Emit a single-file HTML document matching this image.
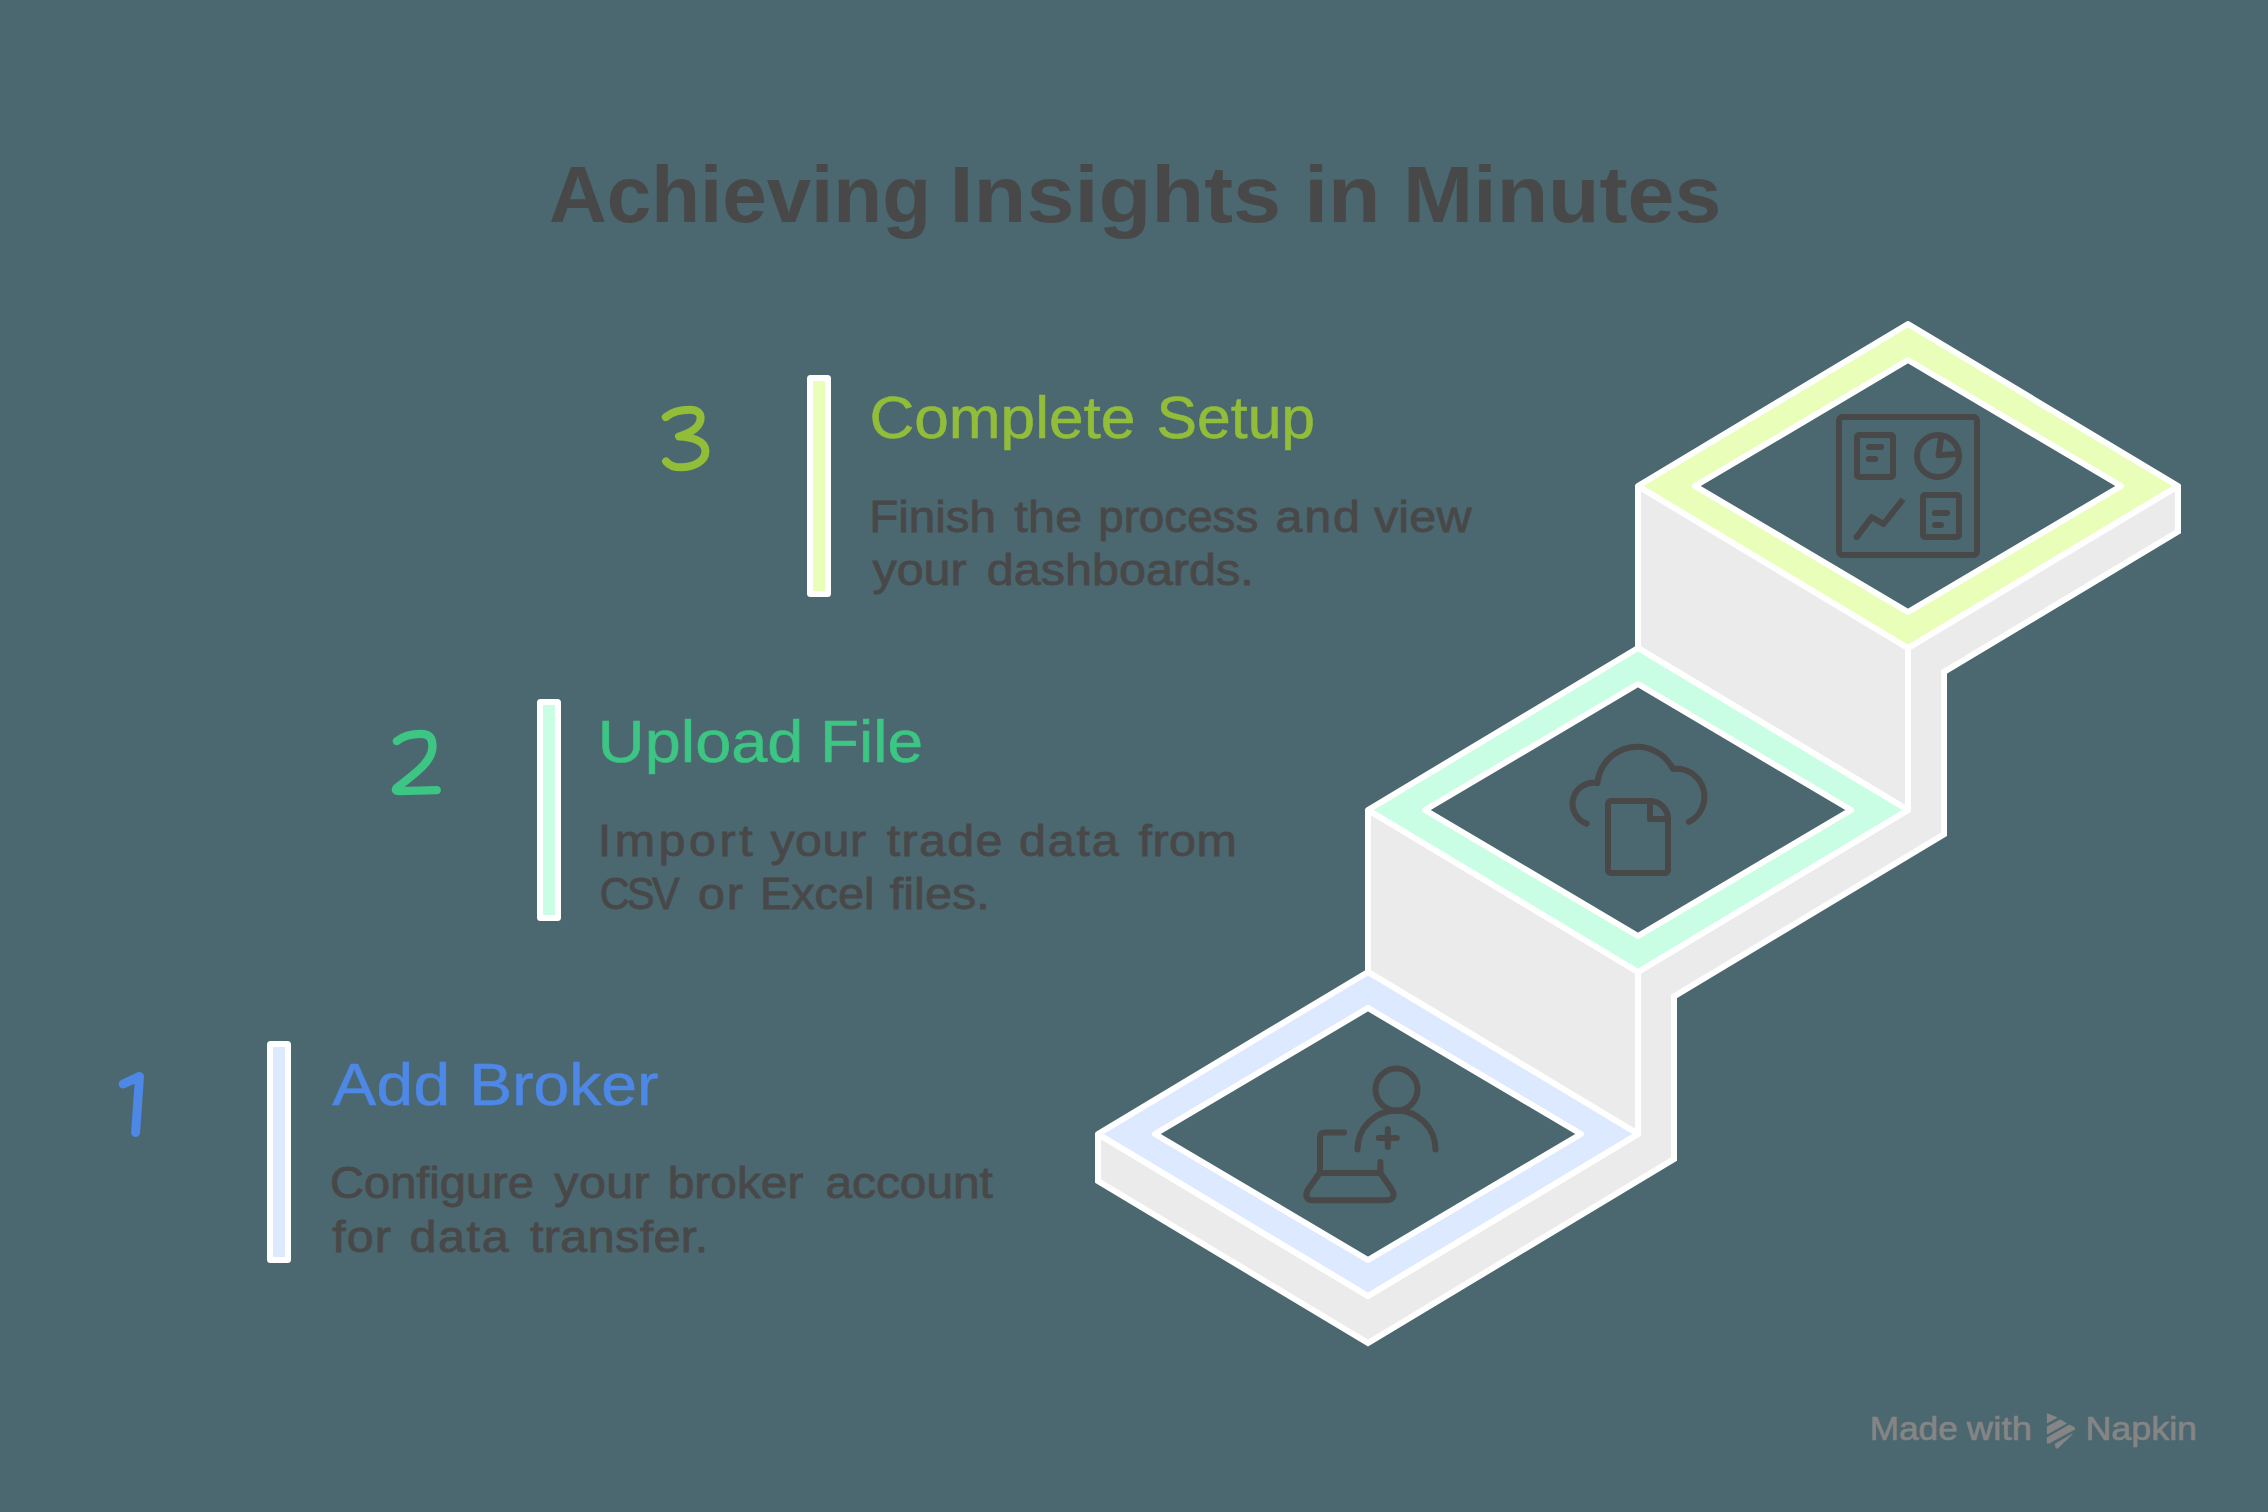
<!DOCTYPE html>
<html lang="en">
<head>
<meta charset="utf-8">
<title>Achieving Insights in Minutes</title>
<style>
  html, body { margin: 0; padding: 0; background: #4b6770; }
  body { width: 2268px; height: 1512px; overflow: hidden; font-family: "Liberation Sans", sans-serif; }
  svg { display: block; }
  text { font-family: "Liberation Sans", sans-serif; }
  .title { font-weight: bold; font-size: 79px; }
  .dig { fill: none; stroke-linecap: round; stroke-linejoin: round; }
  .head { font-size: 60px; stroke-width: 0.6px; stroke-linejoin: round; }
  .desc { font-size: 44px; stroke: #484848; stroke-width: 0.8px; }
  .wm { font-size: 33px; stroke: #858585; stroke-width: 0.7px; }
  .edge { fill: none; stroke: #ffffff; stroke-width: 6; stroke-linejoin: round; stroke-linecap: round; }
  .face { fill: #ebebeb; stroke: #ffffff; stroke-width: 6; stroke-linejoin: miter; stroke-miterlimit: 1.5; }
  .ico { fill: none; stroke: #484848; stroke-width: 6; stroke-linecap: round; stroke-linejoin: round; }
</style>
</head>
<body>
<svg width="2268" height="1512" viewBox="0 0 2268 1512">
  <rect x="0" y="0" width="2268" height="1512" fill="#4b6770"/>

  <!-- TEXT -->
  <g id="txt"><!--TEXT-START-->
    <text class="title" fill="#484848" transform="translate(548.98 222.0) scale(1.0119 1)">Achieving</text>
    <text class="title" fill="#484848" transform="translate(949.53 222.0) scale(1.0949 1)">Insights</text>
    <text class="title" fill="#484848" transform="translate(1304.27 222.0) scale(1.0869 1)">in</text>
    <text class="title" fill="#484848" transform="translate(1403.07 222.0) scale(1.0666 1)">Minutes</text>
    <text class="head" fill="#92bd39" stroke="#92bd39" transform="translate(869.39 438.2) scale(1.0361 1)">Complete</text>
    <text class="head" fill="#92bd39" stroke="#92bd39" transform="translate(1156.58 438.2) scale(1.0111 1)">Setup</text>
    <text class="desc" fill="#484848" transform="translate(869.26 531.5) scale(1.0786 1)">Finish</text>
    <text class="desc" fill="#484848" style="letter-spacing:0.27px" transform="translate(1014.20 531.5) scale(1.1000 1)">the</text>
    <text class="desc" fill="#484848" transform="translate(1098.22 531.5) scale(1.0391 1)">process</text>
    <text class="desc" fill="#484848" style="letter-spacing:1.59px" transform="translate(1275.60 531.5) scale(1.1000 1)">and</text>
    <text class="desc" fill="#484848" style="letter-spacing:0.21px" transform="translate(1373.90 531.5) scale(1.1000 1)">view</text>
    <text class="desc" fill="#484848" transform="translate(872.50 585.0) scale(1.0988 1)">your</text>
    <text class="desc" fill="#484848" style="letter-spacing:0.06px" transform="translate(986.70 585.0) scale(1.1000 1)">dashboards.</text>
    <text class="head" fill="#3cc583" stroke="#3cc583" transform="translate(597.87 762.2) scale(1.0814 1)">Upload</text>
    <text class="head" fill="#3cc583" stroke="#3cc583" transform="translate(820.04 762.2) scale(1.0648 1)">File</text>
    <text class="desc" fill="#484848" style="letter-spacing:3.24px" transform="translate(597.70 855.8) scale(1.1000 1)">Import</text>
    <text class="desc" fill="#484848" style="letter-spacing:0.45px" transform="translate(770.40 855.8) scale(1.1000 1)">your</text>
    <text class="desc" fill="#484848" style="letter-spacing:1.18px" transform="translate(886.80 855.8) scale(1.1000 1)">trade</text>
    <text class="desc" fill="#484848" style="letter-spacing:1.67px" transform="translate(1019.00 855.8) scale(1.1000 1)">data</text>
    <text class="desc" fill="#484848" style="letter-spacing:0.45px" transform="translate(1138.50 855.8) scale(1.1000 1)">from</text>
    <text class="desc" fill="#484848" style="letter-spacing:-2.69px" transform="translate(599.72 909.3) scale(0.9400 1)">CSV</text>
    <text class="desc" fill="#484848" style="letter-spacing:1.73px" transform="translate(698.00 909.3) scale(1.1000 1)">or</text>
    <text class="desc" fill="#484848" transform="translate(759.91 909.3) scale(1.0647 1)">Excel</text>
    <text class="desc" fill="#484848" style="letter-spacing:0.07px" transform="translate(889.70 909.3) scale(1.1000 1)">files.</text>
    <text class="head" fill="#4e88e7" stroke="#4e88e7" style="letter-spacing:0.27px" transform="translate(332.20 1104.6) scale(1.1000 1)">Add</text>
    <text class="head" fill="#4e88e7" stroke="#4e88e7" transform="translate(469.32 1104.6) scale(1.0703 1)">Broker</text>
    <text class="desc" fill="#484848" transform="translate(330.06 1197.6) scale(1.0681 1)">Configure</text>
    <text class="desc" fill="#484848" style="letter-spacing:0.36px" transform="translate(554.30 1197.6) scale(1.1000 1)">your</text>
    <text class="desc" fill="#484848" transform="translate(667.72 1197.6) scale(1.0878 1)">broker</text>
    <text class="desc" fill="#484848" transform="translate(825.41 1197.6) scale(1.0870 1)">account</text>
    <text class="desc" fill="#484848" style="letter-spacing:0.95px" transform="translate(332.20 1251.8) scale(1.1000 1)">for</text>
    <text class="desc" fill="#484848" style="letter-spacing:1.45px" transform="translate(409.60 1251.8) scale(1.1000 1)">data</text>
    <text class="desc" fill="#484848" style="letter-spacing:0.39px" transform="translate(529.90 1251.8) scale(1.1000 1)">transfer.</text>
    <text class="wm" fill="#858585" transform="translate(1869.66 1440.3) scale(1.0675 1)">Made</text>
    <text class="wm" fill="#858585" style="letter-spacing:0.21px" transform="translate(1966.70 1440.3) scale(1.1000 1)">with</text>
    <text class="wm" fill="#858585" transform="translate(2085.43 1440.3) scale(1.0869 1)">Napkin</text>
  <!--TEXT-END--></g>

  <!-- STAIRS -->
  <g id="stairs">
    <!-- right side band (zig-zag profile) -->
    <path class="face" d="M1368,1296 L1638,1134 L1638,972 L1908,810 L1908,648 L2178,486 L2178,531.6 L1944,672 L1944,834.3 L1674,996.5 L1674,1159 L1368,1343 L1098,1181 L1098,1134 Z"/>
    <!-- risers -->
    <path class="face" d="M1638,486 L1908,648 L1908,810 L1638,648 Z"/>
    <path class="face" d="M1368,810 L1638,972 L1638,1134 L1368,972 Z"/>

    <!-- step 3 frame (lime) -->
    <path fill="#e8feb9" fill-rule="evenodd" stroke="#ffffff" stroke-width="6" stroke-linejoin="round"
          d="M1908,324 L2178,486 L1908,648 L1638,486 Z M1908,360 L2121,486 L1908,612 L1695,486 Z"/>
    <!-- step 2 frame (mint) -->
    <path fill="#c9fde4" fill-rule="evenodd" stroke="#ffffff" stroke-width="6" stroke-linejoin="round"
          d="M1638,648 L1908,810 L1638,972 L1368,810 Z M1638,684 L1851,810 L1638,936 L1425,810 Z"/>
    <!-- step 1 frame (blue) -->
    <path fill="#dde9fe" fill-rule="evenodd" stroke="#ffffff" stroke-width="6" stroke-linejoin="round"
          d="M1368,972 L1638,1134 L1368,1296 L1098,1134 Z M1368,1008 L1581,1134 L1368,1260 L1155,1134 Z"/>
  </g>

  <!-- ICONS placeholder -->
  <g id="icons">
    <!-- icon 3: dashboard -->
    <g class="ico">
      <rect x="1839" y="417" width="138" height="138" rx="3.5"/>
      <rect x="1857" y="435" width="36" height="42" rx="2"/>
      <path d="M1869,447 H1881 M1869,459 H1875"/>
      <circle cx="1938" cy="456" r="21"/>
      <path d="M1941.6,434.5 L1938.5,455.2 L1959.4,453.7" stroke-linecap="butt"/>
      <path d="M1856.7,537.1 L1871.6,517.2 L1883.5,524 L1903.1,499.3" stroke-linecap="butt"/>
      <circle cx="1856.7" cy="537.1" r="3" fill="#484848" stroke="none"/>
      <rect x="1923" y="495" width="36" height="42" rx="2"/>
      <path d="M1935,513 H1947 M1935,525 H1941"/>
    </g>
    <!-- icon 2: cloud + file -->
    <g class="ico">
      <path d="M1586.7,823.6 A21,21 0 0 1 1597.4,783.1 A40,40 0 0 1 1673,769 A28,28 0 0 1 1689,821.8"/>
      <path d="M1650,801 H1611 a3,3 0 0 0 -3,3 V870 a3,3 0 0 0 3,3 H1665 a3,3 0 0 0 3,-3 V819 A18,18 0 0 0 1650,801 Z"/>
      <path d="M1650,801 V819 H1668"/>
    </g>
    <!-- icon 1: user + laptop -->
    <g class="ico">
      <circle cx="1396.5" cy="1089.5" r="21"/>
      <path d="M1357.5,1149.5 A39,39 0 0 1 1435.5,1149.5"/>
      <path d="M1387.8,1129 V1147 M1378.8,1138 H1396.8"/>
      <path d="M1344,1132.5 H1325 Q1320,1132.5 1320,1137.5 V1173 H1380.4 V1162"/>
      <path d="M1319.7,1173 L1308.3,1189 C1305,1194 1305.5,1200.3 1313,1200.3 H1386.5 C1394,1200.3 1395,1194.5 1391.8,1189.5 L1380.4,1173"/>
    </g>
  </g>

  <!-- TEXT BLOCKS placeholder -->
  <g id="blocks">
    <!-- block 3 -->
    <rect x="810" y="378" width="18" height="216" rx="0.5" fill="#e8feb9" stroke="#ffffff" stroke-width="6"/>
    <path class="dig" stroke="#92bd39" stroke-width="8" d="M665.8,417.1 C672,412 680,409.8 690,409.8 C698,409.8 701.5,414 700.5,419.5 C699.5,427 690,433 679,436.6 C690,437 705.5,440 705.5,451 C705.5,461 694,467.3 681,467.3 C674,467.3 669,465 666.1,461.4"/>
    <!-- block 2 -->
    <rect x="540" y="702" width="18" height="216" rx="0.5" fill="#c9fde4" stroke="#ffffff" stroke-width="6"/>
    <path class="dig" stroke="#3cc583" stroke-width="8.3" d="M396.8,741.1 C403,736 412,733.8 421,733.8 C429,733.8 432.5,738 432.5,746 C432.5,760 420,770 396.5,788 Q394.5,791.2 399,791.1 L436.8,790.1"/>
    <!-- block 1 -->
    <rect x="270" y="1044" width="18" height="216" rx="0.5" fill="#dde9fe" stroke="#ffffff" stroke-width="6"/>
    <path class="dig" stroke="#4e88e7" stroke-width="9" d="M123.2,1084 L139.5,1076.4 L135.6,1132.5"/>
  </g>

  <!-- WATERMARK placeholder -->
  <g id="wm">
    <g fill="#858585">
      <path d="M2046.9,1413.1 L2057.7,1417.6 L2046.9,1423.4 Z"/>
      <path d="M2046.9,1426.5 L2060.5,1419.2 L2067.1,1423.6 L2048.1,1433.9 L2046.9,1433.9 Z"/>
      <path d="M2046.9,1437.4 L2069.4,1424.5 L2075,1427.5 L2075,1429.5 L2049.2,1443.5 L2046.9,1443.5 Z"/>
      <path d="M2054.8,1443.7 L2072.5,1433.6 L2072.5,1434.6 L2057.3,1449 L2055.2,1447.3 Z"/>
    </g>
  </g>
</svg>
</body>
</html>
